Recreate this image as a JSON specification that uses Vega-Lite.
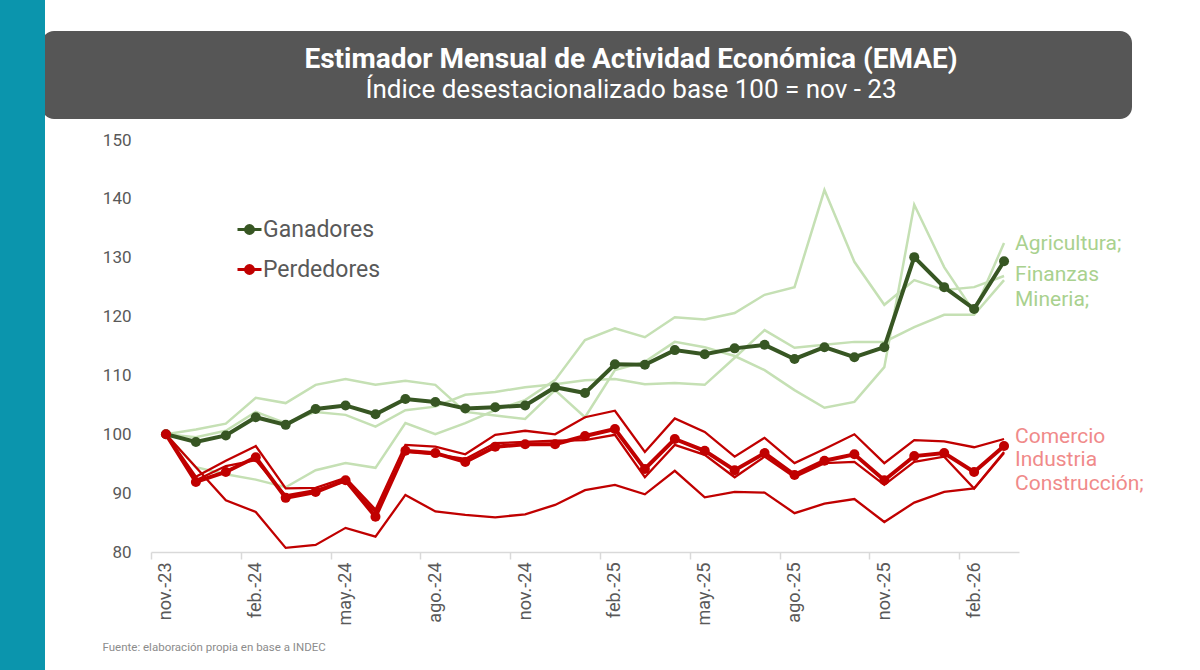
{
  "$schema": "https://vega.github.io/schema/vega-lite/v6.json",
  "width": 868,
  "height": 412,
  "autosize": {"type": "none"},
  "padding": {"left": 151, "top": 140, "right": 181, "bottom": 118},
  "background": "white",
  "config": {"view": {"stroke": null}, "font": "Roboto"},
  "title": {
    "text": "Estimador Mensual de Actividad Económica (EMAE)",
    "subtitle": "Índice desestacionalizado base 100 = nov - 23",
    "color": "white",
    "subtitleColor": "white",
    "font": "Roboto",
    "subtitleFont": "Roboto",
    "fontSize": 28,
    "subtitleFontSize": 26,
    "fontWeight": "bold",
    "subtitleFontWeight": "normal",
    "anchor": "middle",
    "dx": 46,
    "offset": -103,
    "subtitlePadding": 3,
    "zindex": 2
  },
  "datasets": {
    "emae": [
      {"m": "nov.-23", "Ganadores": 100, "Perdedores": 100, "Agricultura": 100, "Mineria": 100, "Finanzas": 100, "Comercio": 100, "Industria": 100, "Construccion": 100},
      {"m": "dic.-23", "Ganadores": 98.7, "Perdedores": 91.9, "Agricultura": 100.8, "Mineria": 99.5, "Finanzas": 94.4, "Comercio": 92.8, "Industria": 92.2, "Construccion": 94.4},
      {"m": "ene.-24", "Ganadores": 99.8, "Perdedores": 93.6, "Agricultura": 101.8, "Mineria": 100.6, "Finanzas": 93.2, "Comercio": 95.5, "Industria": 94.6, "Construccion": 88.8},
      {"m": "feb.-24", "Ganadores": 102.9, "Perdedores": 96.1, "Agricultura": 106.2, "Mineria": 103.8, "Finanzas": 92.3, "Comercio": 98.0, "Industria": 95.6, "Construccion": 86.8},
      {"m": "mar.-24", "Ganadores": 101.6, "Perdedores": 89.2, "Agricultura": 105.3, "Mineria": 101.9, "Finanzas": 91.0, "Comercio": 90.8, "Industria": 89.6, "Construccion": 80.7},
      {"m": "abr.-24", "Ganadores": 104.3, "Perdedores": 90.2, "Agricultura": 108.4, "Mineria": 103.8, "Finanzas": 93.9, "Comercio": 90.9, "Industria": 90.5, "Construccion": 81.2},
      {"m": "may.-24", "Ganadores": 104.9, "Perdedores": 92.2, "Agricultura": 109.4, "Mineria": 103.3, "Finanzas": 95.1, "Comercio": 92.6, "Industria": 92.0, "Construccion": 84.1},
      {"m": "jun.-24", "Ganadores": 103.4, "Perdedores": 86.0, "Agricultura": 108.4, "Mineria": 101.3, "Finanzas": 94.3, "Comercio": 87.2, "Industria": 86.8, "Construccion": 82.6},
      {"m": "jul.-24", "Ganadores": 106.0, "Perdedores": 97.2, "Agricultura": 109.1, "Mineria": 104.1, "Finanzas": 101.9, "Comercio": 98.2, "Industria": 97.0, "Construccion": 89.7},
      {"m": "ago.-24", "Ganadores": 105.5, "Perdedores": 96.8, "Agricultura": 108.4, "Mineria": 104.7, "Finanzas": 100.0, "Comercio": 97.9, "Industria": 96.6, "Construccion": 86.9},
      {"m": "sep.-24", "Ganadores": 104.4, "Perdedores": 95.3, "Agricultura": 103.8, "Mineria": 106.7, "Finanzas": 101.9, "Comercio": 96.6, "Industria": 95.8, "Construccion": 86.3},
      {"m": "oct.-24", "Ganadores": 104.6, "Perdedores": 97.9, "Agricultura": 103.2, "Mineria": 107.2, "Finanzas": 104.1, "Comercio": 99.9, "Industria": 98.5, "Construccion": 85.9},
      {"m": "nov.-24", "Ganadores": 104.9, "Perdedores": 98.3, "Agricultura": 102.6, "Mineria": 108.0, "Finanzas": 105.8, "Comercio": 100.6, "Industria": 98.7, "Construccion": 86.4},
      {"m": "dic.-24", "Ganadores": 108.0, "Perdedores": 98.3, "Agricultura": 107.5, "Mineria": 108.5, "Finanzas": 109.2, "Comercio": 100.0, "Industria": 98.9, "Construccion": 88.0},
      {"m": "ene.-25", "Ganadores": 107.0, "Perdedores": 99.7, "Agricultura": 102.9, "Mineria": 109.2, "Finanzas": 116.0, "Comercio": 102.9, "Industria": 99.0, "Construccion": 90.5},
      {"m": "feb.-25", "Ganadores": 111.9, "Perdedores": 100.9, "Agricultura": 110.9, "Mineria": 109.4, "Finanzas": 118.0, "Comercio": 104.0, "Industria": 99.9, "Construccion": 91.4},
      {"m": "mar.-25", "Ganadores": 111.8, "Perdedores": 94.1, "Agricultura": 112.3, "Mineria": 108.5, "Finanzas": 116.5, "Comercio": 97.0, "Industria": 92.7, "Construccion": 89.8},
      {"m": "abr.-25", "Ganadores": 114.3, "Perdedores": 99.2, "Agricultura": 115.7, "Mineria": 108.7, "Finanzas": 119.9, "Comercio": 102.7, "Industria": 98.2, "Construccion": 93.8},
      {"m": "may.-25", "Ganadores": 113.6, "Perdedores": 97.2, "Agricultura": 114.8, "Mineria": 108.4, "Finanzas": 119.5, "Comercio": 100.4, "Industria": 96.5, "Construccion": 89.3},
      {"m": "jun.-25", "Ganadores": 114.6, "Perdedores": 93.9, "Agricultura": 113.3, "Mineria": 113.0, "Finanzas": 120.6, "Comercio": 96.2, "Industria": 92.7, "Construccion": 90.2},
      {"m": "jul.-25", "Ganadores": 115.2, "Perdedores": 96.8, "Agricultura": 110.9, "Mineria": 117.7, "Finanzas": 123.7, "Comercio": 99.4, "Industria": 96.2, "Construccion": 90.1},
      {"m": "ago.-25", "Ganadores": 112.8, "Perdedores": 93.1, "Agricultura": 107.5, "Mineria": 114.7, "Finanzas": 125.0, "Comercio": 95.1, "Industria": 92.7, "Construccion": 86.6},
      {"m": "sep.-25", "Ganadores": 114.8, "Perdedores": 95.5, "Agricultura": 104.5, "Mineria": 115.2, "Finanzas": 141.5, "Comercio": 97.5, "Industria": 95.1, "Construccion": 88.2},
      {"m": "oct.-25", "Ganadores": 113.1, "Perdedores": 96.6, "Agricultura": 105.5, "Mineria": 115.7, "Finanzas": 129.3, "Comercio": 100.0, "Industria": 95.3, "Construccion": 89.0},
      {"m": "nov.-25", "Ganadores": 114.8, "Perdedores": 92.2, "Agricultura": 111.4, "Mineria": 115.7, "Finanzas": 122.0, "Comercio": 95.1, "Industria": 91.4, "Construccion": 85.1},
      {"m": "dic.-25", "Ganadores": 130.1, "Perdedores": 96.3, "Agricultura": 139.0, "Mineria": 118.2, "Finanzas": 126.2, "Comercio": 99.0, "Industria": 95.3, "Construccion": 88.4},
      {"m": "ene.-26", "Ganadores": 125.0, "Perdedores": 96.8, "Agricultura": 128.4, "Mineria": 120.3, "Finanzas": 124.5, "Comercio": 98.8, "Industria": 96.2, "Construccion": 90.2},
      {"m": "feb.-26", "Ganadores": 121.3, "Perdedores": 93.6, "Agricultura": 120.8, "Mineria": 120.3, "Finanzas": 125.0, "Comercio": 97.8, "Industria": 90.8, "Construccion": 90.8},
      {"m": "mar.-26", "Ganadores": 129.4, "Perdedores": 98.0, "Agricultura": 132.5, "Mineria": 126.2, "Finanzas": 126.9, "Comercio": 99.2, "Industria": 96.8, "Construccion": 97.0}
    ],
    "labels": [
      {"m": "mar.-26", "t": "Agricultura;", "v": 132.3, "g": "ganadores"},
      {"m": "mar.-26", "t": "Finanzas", "v": 127.0, "g": "ganadores"},
      {"m": "mar.-26", "t": "Mineria;", "v": 122.9, "g": "ganadores"},
      {"m": "mar.-26", "t": "Comercio", "v": 99.6, "g": "perdedores"},
      {"m": "mar.-26", "t": "Industria", "v": 95.6, "g": "perdedores"},
      {"m": "mar.-26", "t": "Construcción;", "v": 91.6, "g": "perdedores"}
    ]
  },
  "layer": [
    {
      "data": {"values": [{}]},
      "mark": {"type": "rect", "color": "#565656", "cornerRadius": 12},
      "encoding": {"x": {"value": -109}, "x2": {"value": 981}, "y": {"value": -109}, "y2": {"value": -21}}
    },
    {
      "data": {"values": [{}]},
      "mark": {"type": "rect", "color": "#0b95ad"},
      "encoding": {"x": {"value": -151}, "x2": {"value": -106}, "y": {"value": -140}, "y2": {"value": 530}}
    },
    {
      "data": {"name": "emae"},
      "transform": [{"fold": ["Agricultura", "Mineria", "Finanzas"], "as": ["sector", "v"]}],
      "mark": {"type": "line", "color": "#c5e0b4", "strokeWidth": 2.5},
      "encoding": {
        "x": {
          "field": "m", "type": "ordinal", "bandPosition": 0.5,
          "scale": {"type": "band", "paddingInner": 0, "paddingOuter": 0,
            "domain": ["nov.-23","dic.-23","ene.-24","feb.-24","mar.-24","abr.-24","may.-24","jun.-24","jul.-24","ago.-24","sep.-24","oct.-24","nov.-24","dic.-24","ene.-25","feb.-25","mar.-25","abr.-25","may.-25","jun.-25","jul.-25","ago.-25","sep.-25","oct.-25","nov.-25","dic.-25","ene.-26","feb.-26","mar.-26"]},
          "axis": {
            "values": ["nov.-23","feb.-24","may.-24","ago.-24","nov.-24","feb.-25","may.-25","ago.-25","nov.-25","feb.-26"],
            "tickOffset": -15, "labelOffset": 15,
            "labelAngle": -90, "labelAlign": "right", "labelBaseline": "middle",
            "labelFontSize": 18, "labelColor": "#595959", "labelFont": "Roboto", "labelPadding": 3,
            "tickColor": "#d9d9d9", "tickSize": 7, "tickWidth": 1.5,
            "domainColor": "#d9d9d9", "domainWidth": 1.5, "grid": false,
            "title": "Fuente: elaboración propia en base a INDEC",
            "titleFontSize": 11.5, "titleColor": "#8c8c8c", "titleFontWeight": "normal", "titleFont": "Roboto",
            "titleAnchor": "start", "titleAlign": "left", "titleBaseline": "middle",
            "titleX": -49, "titleY": 95
          }
        },
        "y": {
          "field": "v", "type": "quantitative",
          "scale": {"domain": [80, 150], "nice": false, "zero": false},
          "axis": {"values": [80, 90, 100, 110, 120, 130, 140, 150], "domain": false, "ticks": false, "grid": false,
            "labelFontSize": 17, "labelColor": "#595959", "labelFont": "Roboto", "labelPadding": 20, "title": null}
        },
        "detail": {"field": "sector"}
      }
    },
    {
      "data": {"name": "emae"},
      "transform": [{"fold": ["Comercio", "Industria", "Construccion"], "as": ["sector", "v"]}],
      "mark": {"type": "line", "color": "#c00000", "strokeWidth": 2.3},
      "encoding": {
        "x": {"field": "m", "type": "ordinal", "bandPosition": 0.5},
        "y": {"field": "v", "type": "quantitative"},
        "detail": {"field": "sector"}
      }
    },
    {
      "data": {"name": "emae"},
      "transform": [{"fold": ["Ganadores", "Perdedores"], "as": ["serie", "v"]}],
      "mark": {"type": "line", "strokeWidth": 4},
      "encoding": {
        "x": {"field": "m", "type": "ordinal", "bandPosition": 0.5},
        "y": {"field": "v", "type": "quantitative"},
        "color": {
          "field": "serie", "type": "nominal",
          "scale": {"domain": ["Ganadores", "Perdedores"], "range": ["#375623", "#c00000"]},
          "legend": {
            "orient": "none", "legendX": 85, "legendY": 76, "title": null, "padding": 0,
            "symbolType": "M-1,0L1,0M0.33,0A0.33,0.33,0,1,1,-0.33,0A0.33,0.33,0,1,1,0.33,0",
            "symbolSize": 576, "symbolStrokeWidth": 3,
            "labelFontSize": 23, "labelColor": "#595959", "labelFont": "Roboto", "labelOffset": 0,
            "rowPadding": 14,
            "encode": {"symbols": {"update": {"fill": {"scale": "color", "field": "value"}, "stroke": {"scale": "color", "field": "value"}, "strokeWidth": {"value": 3}, "opacity": {"value": 1}}}}
          }
        }
      }
    },
    {
      "data": {"name": "emae"},
      "transform": [{"fold": ["Ganadores", "Perdedores"], "as": ["serie", "v"]}],
      "mark": {"type": "point", "filled": true, "size": 100, "opacity": 1},
      "encoding": {
        "x": {"field": "m", "type": "ordinal", "bandPosition": 0.5},
        "y": {"field": "v", "type": "quantitative"},
        "color": {"field": "serie", "type": "nominal"}
      }
    },
    {
      "data": {"name": "labels"},
      "transform": [{"filter": "datum.g === 'ganadores'"}],
      "mark": {"type": "text", "align": "left", "baseline": "middle", "dx": 11, "fontSize": 21, "font": "Roboto", "color": "#a9d18e"},
      "encoding": {
        "x": {"field": "m", "type": "ordinal", "bandPosition": 0.5},
        "y": {"field": "v", "type": "quantitative"},
        "text": {"field": "t"}
      }
    },
    {
      "data": {"name": "labels"},
      "transform": [{"filter": "datum.g === 'perdedores'"}],
      "mark": {"type": "text", "align": "left", "baseline": "middle", "dx": 11, "fontSize": 21, "font": "Roboto", "color": "#f08a8a"},
      "encoding": {
        "x": {"field": "m", "type": "ordinal", "bandPosition": 0.5},
        "y": {"field": "v", "type": "quantitative"},
        "text": {"field": "t"}
      }
    }
  ]
}
